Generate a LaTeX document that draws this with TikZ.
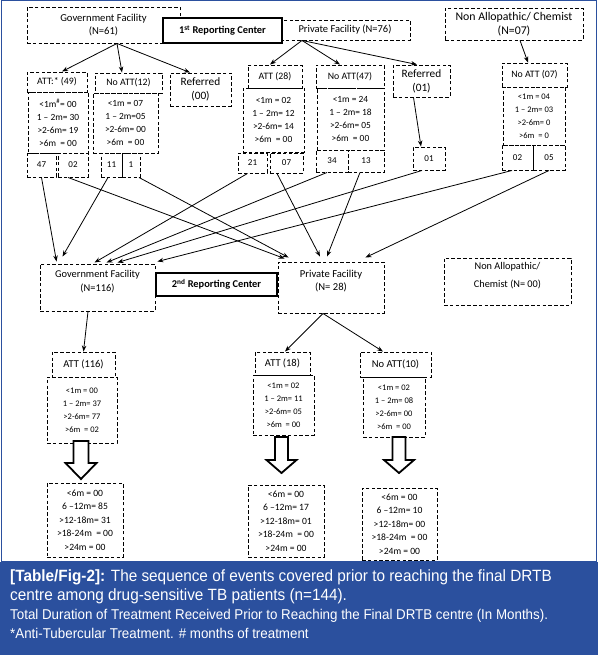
\documentclass[tikz,border=0pt]{standalone}
\usepackage{fontspec}
\setmainfont{Carlito}
\newfontfamily\capfont[FakeStretch=0.94]{Liberation Sans}
\usetikzlibrary{arrows.meta,calc}
\definecolor{bandblue}{HTML}{2B509E}
\begin{document}
\begin{tikzpicture}[x=1pt,y=-1pt,
  dbox/.style={draw, line width=0.95pt, dash pattern=on 3.6pt off 2.2pt, inner sep=0pt, align=center},
  lab/.style={font=\fontsize{9.8}{13}\selectfont},
  lab2/.style={font=\fontsize{10.5}{13}\selectfont},
  refd/.style={font=\fontsize{11.3}{14}\selectfont},
  big/.style={font=\fontsize{10.6}{13}\selectfont},
  dat/.style={font=\fontsize{9.4}{13}\selectfont},
  dats/.style={font=\fontsize{8.5}{13}\selectfont},
  res/.style={font=\fontsize{9.6}{13.5}\selectfont},
  num/.style={font=\fontsize{9}{10}\selectfont},
  rc/.style={draw, line width=2.4pt, fill=white, inner sep=0pt, font=\bfseries\fontsize{10.4}{12}\selectfont},
  arr/.style={-{Stealth[length=6pt,width=4.5pt]}, line width=0.8pt},
  hollow/.style={draw, line width=1.8pt, line join=miter, fill=white}]
\useasboundingbox (0,0) rectangle (598,655);
% frame and caption band
\draw[bandblue, line width=1.2pt] (1.5,0.8) rectangle (596.5,562);
\fill[bandblue] (0,562) rectangle (598,655);
% ---------- top level
\node[dbox,big,minimum width=153pt,minimum height=36pt] (gf1) at (103.5,25) {Government Facility\\(N=61)};
\node[dbox,font=\fontsize{10.5}{13}\selectfont,minimum width=130pt,minimum height=20pt] (pf1) at (345,30) {Private Facility (N=76)};
\node[rc,minimum width=119pt,minimum height=25pt] (rc1) at (222.5,30.5) {1\textsuperscript{st} Reporting Center\hspace{12pt}};
\node[dbox,font=\fontsize{11.8}{14}\selectfont,minimum width=138pt,minimum height=32pt] (na1) at (514,24) {Non Allopathic/ Chemist\\(N=07)};
% ---------- second level
\node[dbox,lab,minimum width=60pt,minimum height=20pt] (att49) at (57,82) {ATT:* (49)};
\node[dbox,dat,minimum width=60pt,minimum height=61pt] (att49d) at (58,122.5) {<1m\textsuperscript{\#}= 00\\1 -- 2m= 30\\>2-6m= 19\\>6m\ \ = 00};
\node[dbox,num,minimum width=29pt,minimum height=24pt] (s47) at (41.5,165) {47};
\node[dbox,num,minimum width=30pt,minimum height=24pt] (s02a) at (73,165) {02};
\node[dbox,lab,minimum width=67pt,minimum height=20pt] (natt12) at (128.5,83) {No ATT(12)};
\node[dbox,dat,minimum width=65pt,minimum height=60pt] (natt12d) at (125.5,123) {<1m = 07\\1 -- 2m=05\\>2-6m= 00\\>6m\ \ = 00};
\node[dbox,num,minimum width=21pt,minimum height=24pt] (s11) at (111.5,165) {11};
\node[dbox,num,minimum width=18pt,minimum height=24pt] (s1) at (131,165) {1};
\node[dbox,refd,minimum width=61pt,minimum height=33pt] (ref00) at (200.5,89.5) {Referred\\(00)};
\node[dbox,lab,minimum width=54pt,minimum height=23pt] (att28) at (275,76.5) {ATT (28)};
\node[dbox,dat,minimum width=61pt,minimum height=64pt] (att28d) at (273.5,120) {<1m = 02\\1 -- 2m= 12\\>2-6m= 14\\>6m\ \ = 00};
\node[dbox,num,minimum width=29pt,minimum height=20pt] (s21) at (252.5,163) {21};
\node[dbox,num,minimum width=33pt,minimum height=20pt] (s07) at (286.5,163) {07};
\node[dbox,lab,minimum width=68pt,minimum height=23pt] (natt47) at (350,76.5) {No ATT(47)};
\node[dbox,dat,minimum width=67pt,minimum height=62pt] (natt47d) at (350.5,119) {<1m = 24\\1 -- 2m= 18\\>2-6m= 05\\>6m\ \ = 00};
\node[dbox,num,minimum width=32pt,minimum height=22pt] (s34) at (332,161) {34};
\node[dbox,num,minimum width=36pt,minimum height=22pt] (s13) at (366,161) {13};
\node[dbox,refd,minimum width=57pt,minimum height=32pt] (ref01) at (421.5,81) {Referred\\(01)};
\node[dbox,num,minimum width=32pt,minimum height=23pt] (s01) at (429,158.5) {01};
\node[dbox,lab,minimum width=65pt,minimum height=24pt] (natt07) at (534.5,75) {No ATT (07)};
\node[dbox,dats,minimum width=62pt,minimum height=58pt] (natt07d) at (534,116) {<1m = 04\\1 -- 2m= 03\\>2-6m= 0\\>6m\ \ = 0};
\node[dbox,num,minimum width=31pt,minimum height=25pt] (s02b) at (517.5,157.5) {02};
\node[dbox,num,minimum width=32pt,minimum height=25pt] (s05) at (549,157.5) {05};
% ---------- second reporting level
\node[dbox,minimum width=115pt,minimum height=47pt] (gf2) at (97.5,287.5) {};
\node[align=center,font=\fontsize{10.4}{14}\selectfont] (gf2t) at (97.5,282) {Government Facility\\(N=116)};
\node[dbox,minimum width=106pt,minimum height=51pt] (pf2) at (331,287.5) {};
\node[align=center,font=\fontsize{10.6}{12.5}\selectfont] (pf2t) at (331,281) {Private Facility\\(N= 28)};
\node[rc,minimum width=121pt,minimum height=23pt] (rc2) at (216.5,284.5) {2\textsuperscript{nd} Reporting Center\hspace{12pt}};
\node[dbox,minimum width=127pt,minimum height=47pt] (na2) at (507.5,281.5) {};
\node[align=center,font=\fontsize{10.3}{18}\selectfont] (na2t) at (507.5,276) {Non Allopathic/\\Chemist (N= 00)};
% ---------- third level
\node[dbox,lab2,minimum width=63pt,minimum height=25pt] (att116) at (83.5,364.5) {ATT (116)};
\node[dbox,dats,minimum width=70pt,minimum height=66pt] (att116d) at (82,410) {<1m = 00\\1 -- 2m= 37\\>2-6m= 77\\>6m\ \ = 02};
\node[dbox,lab2,minimum width=55pt,minimum height=23pt] (att18) at (282.5,363.5) {ATT (18)};
\node[dbox,dats,minimum width=61pt,minimum height=60pt] (att18d) at (283.5,405) {<1m = 02\\1 -- 2m= 11\\>2-6m= 05\\>6m\ \ = 00};
\node[dbox,lab2,minimum width=71pt,minimum height=25pt] (natt10) at (395.5,364.5) {No ATT(10)};
\node[dbox,dats,minimum width=62pt,minimum height=60pt] (natt10d) at (394,407) {<1m = 02\\1 -- 2m= 08\\>2-6m= 00\\>6m\ \ = 00};
% ---------- results
\node[dbox,res,minimum width=76pt,minimum height=74pt] (res1) at (85,520) {<6m = 00\\6 --12m= 85\\>12-18m= 31\\>18-24m\ \ = 00\\>24m = 00};
\node[dbox,res,minimum width=76pt,minimum height=72pt] (res2) at (286,521) {<6m = 00\\6 --12m= 17\\>12-18m= 01\\>18-24m\ \ = 00\\>24m = 00};
\node[dbox,res,minimum width=75pt,minimum height=72pt] (res3) at (399.5,524) {<6m = 00\\6 --12m= 10\\>12-18m= 00\\>18-24m\ \ = 00\\>24m = 00};
% hollow arrows
\draw[hollow] (73.5,441) -- (88.5,441) -- (88.5,463) -- (96.5,463) -- (81,479) -- (65.5,463) -- (73.5,463) -- cycle;
\draw[hollow] (275,437) -- (288,437) -- (288,460) -- (296.5,460) -- (281.5,473) -- (266.5,460) -- (275,460) -- cycle;
\draw[hollow] (392.5,437) -- (405.5,437) -- (405.5,460) -- (414,460) -- (399,473) -- (384,460) -- (392.5,460) -- cycle;
% ---------- connectors top
\draw[arr] ([xshift=13.5pt]gf1.south) -- ([xshift=5pt]att49.north);
\draw[arr] ([xshift=13.5pt]gf1.south) -- ([xshift=-6.5pt]natt12.north);
\draw[arr] ([xshift=13.5pt]gf1.south) -- ([xshift=-10.5pt]ref00.north);
\draw[arr] ([xshift=-43pt]pf1.south) -- ([xshift=-5pt]att28.north);
\draw[arr] ([xshift=-43pt]pf1.south) -- ([xshift=-10pt]natt47.north);
\draw[arr] ([xshift=-43pt]pf1.south) -- ([xshift=-4.5pt]ref01.north);
\draw[arr] ([xshift=6pt]na1.south) -- ([xshift=-6.5pt]natt07.north);
\draw[arr] ([xshift=-8pt]ref01.south) -- ([xshift=-8pt]s01.north);
% ---------- connectors to second level
\draw[arr] (s47.south) -- ([xshift=17pt,yshift=2pt]gf2.north west);
\draw[arr] ([xshift=-3.5pt]s11.south) -- ([xshift=23pt,yshift=7pt]gf2.north west);
\draw[arr] ([xshift=-5pt]s21.south) -- ([xshift=55pt,yshift=1pt]gf2.north west);
\draw[arr] ([xshift=-5pt]s34.south) -- ([xshift=67pt,yshift=1pt]gf2.north west);
\draw[arr] ([xshift=-7pt]s01.south) -- ([xshift=78pt,yshift=1pt]gf2.north west);
\draw[arr] ([xshift=-5.5pt]s02b.south) -- ([xshift=2pt,yshift=2pt]gf2.north east);
\draw[arr] ([xshift=-5pt]s02a.south) -- ([xshift=7pt,yshift=3pt]pf2.north west);
\draw[arr] ([xshift=8pt]s1.south) -- ([xshift=11pt,yshift=4pt]pf2.north west);
\draw[arr] ([xshift=-9.5pt]s07.south) -- ([xshift=-11pt,yshift=5pt]pf2.north);
\draw[arr] ([xshift=-6pt]s13.south) -- ([xshift=-4pt,yshift=5pt]pf2.north);
\draw[arr] (s05.south) -- ([xshift=-19pt,yshift=4pt]pf2.north east);
% ---------- connectors lower
\draw[arr] ([xshift=-9.5pt]gf2.south) -- (att116.north);
\draw[arr] ([xshift=-8pt]pf2.south) -- ([xshift=2.5pt]att18.north);
\draw[arr] ([xshift=-8pt]pf2.south) -- ([xshift=-12.5pt]natt10.north);
% ---------- caption
\node[anchor=base west,text=white,inner sep=0pt,font=\capfont\fontsize{16.3}{18}\selectfont] (cap1) at (10,581) {\textbf{[Table/Fig-2]:} The sequence of events covered prior to reaching the final DRTB};
\node[anchor=base west,text=white,inner sep=0pt,font=\capfont\fontsize{16.3}{18}\selectfont] (cap2) at (10,600) {centre among drug-sensitive TB patients (n=144).};
\node[anchor=base west,text=white,inner sep=0pt,font=\capfont\fontsize{14.2}{15}\selectfont] (cap3) at (10,619) {Total Duration of Treatment Received Prior to Reaching the Final DRTB centre (In Months).};
\node[anchor=base west,text=white,inner sep=0pt,font=\capfont\fontsize{14.2}{15}\selectfont] (cap4) at (10,638) {*Anti-Tubercular Treatment. \# months of treatment};
\end{tikzpicture}
\end{document}
